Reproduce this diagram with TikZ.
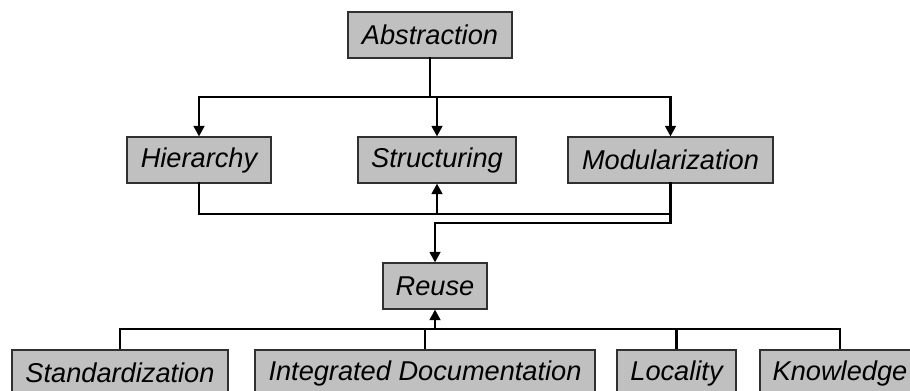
\documentclass[tikz,border=0pt]{standalone}
\usepackage{fontspec}
\setmainfont{Liberation Sans}
\usetikzlibrary{arrows.meta}
\definecolor{boxfill}{HTML}{C0C0C0}
\definecolor{boxline}{HTML}{303030}
\tikzset{
  concept/.style={draw=boxline, line width=0.8pt, fill=boxfill, inner sep=0pt,
    minimum height=34.5pt, font=\fontsize{20.4}{24}\selectfont\itshape},
  link/.style={line width=2.2pt, line cap=rect},
  branch/.style={line width=1.6pt},
  arr/.style={link, -{Triangle[width=8pt,length=8pt]}}
}
\begin{document}
\begin{tikzpicture}[x=0.75pt, y=-0.75pt]
  \useasboundingbox (0,0) rectangle (910,391);
  \clip (0,0) rectangle (910,391);
  \fill[white] (0,0) rectangle (910,391);

  % concept boxes
  \node[concept, minimum width=123pt]    (abs)    at (430,35)    {Abstraction};
  \node[concept, minimum width=108pt]    (hier)   at (199,160)   {Hierarchy};
  \node[concept, minimum width=118.5pt]  (struct) at (437,160)   {Structuring};
  \node[concept, minimum width=153.75pt] (mod)    at (670.5,160) {Modularization};
  \node[concept, minimum width=78pt]     (reuse)  at (435,286)   {Reuse};
  \node[concept, minimum width=162pt]    (std)    at (120,373)   {Standardization};
  \node[concept, minimum width=255pt]    (integ)  at (425,373)   {Integrated Documentation};
  \node[concept, minimum width=89.25pt]  (loc)    at (676.5,373) {Locality};
  \node[concept, minimum width=120pt]    (know)   at (840,373)   {Knowledge};

  % junction points
  \coordinate (j1) at (430,97);
  \coordinate (j2) at (437,214);
  \coordinate (j3) at (670.5,223);
  \coordinate (j4) at (435,329);

  % abstraction fans out to the middle row
  \draw[link] (abs.south) -- (j1);
  \draw[arr] (j1) -| (hier.north);
  \draw[arr] (j1) -| (mod.north);
  \draw[arr] (struct.north |- j1) -- (struct.north);

  % hierarchy and modularization feed structuring
  \draw[link] (hier.south) |- (j2) -| (mod.south);
  \draw[arr] (j2) -- (struct.south);

  % modularization leads to reuse
  \draw[arr] (mod.south) -- (j3) -| (reuse.north);

  % bottom row feeds reuse
  \draw[branch] (std.north) |- (j4) -| (know.north);
  \draw[branch] (integ.north) -- (integ.north |- j4);
  \draw[branch] (loc.north) -- (loc.north |- j4);
  \draw[arr] (j4) -- (reuse.south);
\end{tikzpicture}
\end{document}
